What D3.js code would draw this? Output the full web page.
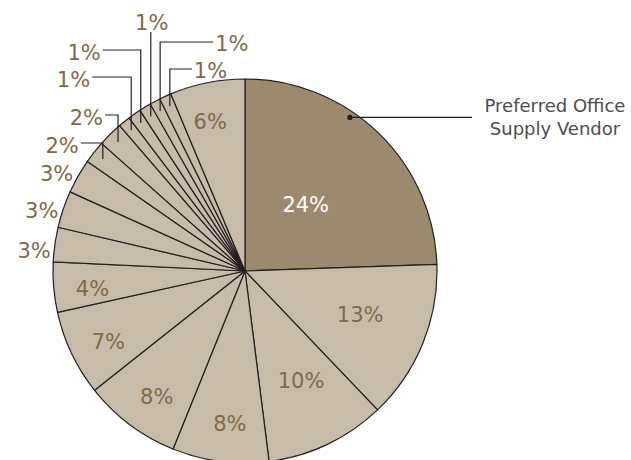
<!DOCTYPE html>
<html>
<head>
<meta charset="utf-8">
<script src="https://cdn.jsdelivr.net/npm/d3@7"></script>
<style>
  html, body { margin: 0; padding: 0; background: #ffffff; }
  svg { display: block; }
</style>
</head>
<body>
<svg id="chart" width="631" height="460"></svg>
<script>
// ---- data ----
const categories = [
  "Preferred Office Supply Vendor", "Vendor B", "Vendor C", "Vendor D", "Vendor E",
  "Vendor F", "Vendor G", "Vendor H", "Vendor I", "Vendor J", "Vendor K", "Vendor L",
  "Vendor M", "Vendor N", "Vendor O", "Vendor P", "Vendor Q", "Vendor R"
];
const shares = [24.4, 13.4, 10.1, 8.1, 8.2, 7.2, 4.2, 2.9, 3.1, 2.9, 1.9, 2.1, 1.0, 1.1, 1.0, 0.9, 1.0, 6.3];
const highlighted = ["Preferred Office Supply Vendor"];
const annotationLines = ["Preferred Office", "Supply Vendor"];

// ---- layout / style ----
const W = 631, H = 460;
const cx = 245, cy = 271, R = 192;
const colorHighlight = "#9b8a6d";
const colorOther = "#c6bca9";
const colorLabel = "#7f6a47";
const colorStroke = "#231f20";
const fontFamily = "'DejaVu Sans', sans-serif";
const labelSize = 21;

// label placement modes per slice index
const outsidePlain = [7, 8, 9];
const leaderLayout = {
  10: { elbowY: 143, len: 22, side: "left" },
  11: { elbowY: 115, len: 13, side: "left" },
  12: { elbowY: 77,  len: 39, side: "left" },
  13: { elbowY: 50,  len: 38, side: "left" },
  14: { elbowY: 32,  len: 0,  side: "top" },
  15: { elbowY: 42,  len: 53, side: "right" },
  16: { elbowY: 69,  len: 22, side: "right" }
};

const svg = d3.select("#chart");
const g = svg.append("g").attr("transform", `translate(${cx},${cy})`);

const pie = d3.pie().sort(null).value(d => d.value);
const data = pie(categories.map((c, i) => ({ name: c, value: shares[i] })));
const arc = d3.arc().innerRadius(0).outerRadius(R);

g.selectAll("path.slice")
  .data(data)
  .join("path")
  .attr("class", "slice")
  .attr("d", arc)
  .attr("fill", d => highlighted.includes(d.data.name) ? colorHighlight : colorOther)
  .attr("stroke", colorStroke)
  .attr("stroke-width", 1.2)
  .attr("stroke-linejoin", "round");

const polar = (a, r) => [r * Math.sin(a), -r * Math.cos(a)];
const mid = d => (d.startAngle + d.endAngle) / 2;
const fmt = d => Math.round(d.data.value) + "%";

function insideRadius(v) {
  if (v > 20) return 0.47 * R;
  if (v >= 10) return 0.64 * R;
  return 0.8 * R;
}

// inside labels
data.forEach((d, i) => {
  if (outsidePlain.includes(i) || leaderLayout[i]) return;
  const [x, y] = polar(mid(d) - 0.03, insideRadius(d.data.value));
  g.append("text")
    .attr("x", x).attr("y", y)
    .attr("dy", "0.36em")
    .attr("text-anchor", "middle")
    .attr("font-family", fontFamily)
    .attr("font-size", labelSize)
    .attr("fill", highlighted.includes(d.data.name) ? "#ffffff" : colorLabel)
    .text(fmt(d));
});

// outside plain labels
outsidePlain.forEach(i => {
  const d = data[i];
  const [x, y] = polar(mid(d) - 0.04, R + 20);
  g.append("text")
    .attr("x", x).attr("y", y)
    .attr("dy", "0.36em")
    .attr("text-anchor", "middle")
    .attr("font-family", fontFamily)
    .attr("font-size", labelSize)
    .attr("fill", colorLabel)
    .text(fmt(d));
});

// leader labels
Object.keys(leaderLayout).forEach(k => {
  const i = +k;
  const d = data[i];
  const L = leaderLayout[i];
  const [px, py] = polar(mid(d), 181);
  const sx = cx + px, sy = cy + py;
  let pts, tx, ty, anchor;
  if (L.side === "left") {
    pts = [[sx, sy], [sx, L.elbowY], [sx - L.len, L.elbowY]];
    tx = sx - L.len - 2; ty = L.elbowY + 2; anchor = "end";
  } else if (L.side === "right") {
    pts = [[sx, sy], [sx, L.elbowY], [sx + L.len, L.elbowY]];
    tx = sx + L.len + 2; ty = L.elbowY + 1; anchor = "start";
  } else {
    pts = [[sx, sy], [sx, L.elbowY]];
    tx = sx + 1; ty = L.elbowY - 10; anchor = "middle";
  }
  svg.append("path")
    .attr("d", d3.line()(pts))
    .attr("fill", "none")
    .attr("stroke", colorStroke)
    .attr("stroke-width", 1.2);
  svg.append("text")
    .attr("x", tx).attr("y", ty)
    .attr("dy", "0.36em")
    .attr("text-anchor", anchor)
    .attr("font-family", fontFamily)
    .attr("font-size", labelSize)
    .attr("fill", colorLabel)
    .text(fmt(d));
});

// annotation for highlighted slice
{
  const d = data[0];
  const a = d.startAngle + 0.39 * (d.endAngle - d.startAngle);
  const [px, py] = polar(a, 186);
  const ax = cx + px, ay = cy + py;
  svg.append("line")
    .attr("x1", ax).attr("y1", ay)
    .attr("x2", 472).attr("y2", ay)
    .attr("stroke", colorStroke)
    .attr("stroke-width", 1.2);
  svg.append("circle")
    .attr("cx", ax).attr("cy", ay).attr("r", 2.6)
    .attr("fill", colorStroke);
  const t = svg.append("text")
    .attr("text-anchor", "middle")
    .attr("font-family", fontFamily)
    .attr("font-size", 18)
    .attr("fill", "#4d4d4d");
  annotationLines.forEach((line, j) => {
    t.append("tspan")
      .attr("x", 555)
      .attr("y", ay - 12 + j * 23)
      .attr("dy", "0.36em")
      .text(line);
  });
}
</script>
</body>
</html>
